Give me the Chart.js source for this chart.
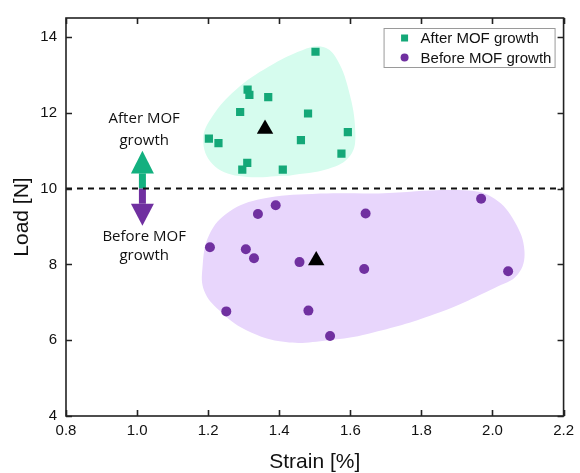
<!DOCTYPE html>
<html>
<head>
<meta charset="utf-8">
<script src="https://cdn.jsdelivr.net/npm/chart.js@4.4.1/dist/chart.umd.min.js"></script>
<style>
  html, body { margin: 0; padding: 0; background: #fff; }
  #chart { display: block; }
</style>
</head>
<body>
<canvas id="chart" width="580" height="473"></canvas>
<script>
// ---- data ----
const afterStrain  = [1.502, 1.311, 1.316, 1.369, 1.290, 1.481, 1.593, 1.202, 1.229, 1.461, 1.575, 1.310, 1.296, 1.410];
const afterLoad    = [13.61, 12.61, 12.47, 12.41, 12.02, 11.98, 11.49, 11.32, 11.20, 11.28, 10.92, 10.68, 10.50, 10.50];
const beforeStrain = [1.390, 1.340, 1.643, 1.205, 1.306, 1.329, 1.457, 1.639, 1.251, 1.482, 1.543, 1.968, 2.044];
const beforeLoad   = [9.56, 9.33, 9.34, 8.45, 8.40, 8.16, 8.06, 7.88, 6.76, 6.78, 6.11, 9.73, 7.82];
const meanStrain   = [1.360, 1.504];
const meanLoad     = [11.57, 8.10];

// outlines of the shaded regions
const afterHullX  = [1.427, 1.287, 1.212, 1.186, 1.212, 1.278, 1.371, 1.465, 1.520, 1.558, 1.595, 1.614, 1.600, 1.539, 1.427];
const afterHullY  = [10.34, 10.33, 10.65, 11.30, 11.91, 12.61, 13.22, 13.65, 13.74, 13.48, 12.61, 11.48, 10.87, 10.52, 10.34];
const beforeHullX = [1.679, 1.931, 2.006, 2.062, 2.090, 2.071, 2.006, 1.838, 1.651, 1.539, 1.418, 1.306, 1.231, 1.189, 1.184, 1.203, 1.259, 1.352, 1.493, 1.679];
const beforeHullY = [9.87, 9.95, 9.73, 9.13, 8.35, 7.73, 7.38, 6.69, 6.17, 6.00, 5.95, 6.27, 6.79, 7.30, 7.91, 8.78, 9.39, 9.73, 9.86, 9.87];

const dividerX = [0.8, 2.2];
const dividerY = [10, 10];

const xTicks = [0.8, 1.0, 1.2, 1.4, 1.6, 1.8, 2.0, 2.2];
const yTicks = [4, 6, 8, 10, 12, 14];

// arrow annotation: base, head base, tip (load values)
const arrowX = 1.015;
const arrowUp = [10, 10.4, 11.0];
const arrowDown = [10, 9.6, 9.02];
const noteX = 1.02;
const noteLines = ['After MOF', 'growth', 'Before MOF', 'growth'];
const noteY = [11.83, 11.27, 8.73, 8.24];

const GREEN = '#14a878';
const PURPLE = '#7030a0';

const pts = (xs, ys) => xs.map((x, i) => ({ x, y: ys[i] }));

Chart.defaults.font.family = '"Liberation Sans", Arial, sans-serif';
Chart.defaults.color = '#111';

const annotations = {
  id: 'annotations',
  beforeDatasetsDraw(chart) {
    const { ctx, scales: { x, y } } = chart;
    const drawArrow = (vals, color) => {
      const px = x.getPixelForValue(arrowX);
      const p0 = y.getPixelForValue(vals[0]);
      const p1 = y.getPixelForValue(vals[1]);
      const p2 = y.getPixelForValue(vals[2]);
      ctx.fillStyle = color;
      ctx.beginPath();
      ctx.rect(px - 3.5, Math.min(p0, p1), 7, Math.abs(p1 - p0));
      ctx.fill();
      ctx.beginPath();
      ctx.moveTo(px - 11.5, p1);
      ctx.lineTo(px, p2);
      ctx.lineTo(px + 11.5, p1);
      ctx.closePath();
      ctx.fill();
    };
    ctx.save();
    drawArrow(arrowUp, '#13b07f');
    drawArrow(arrowDown, PURPLE);
    ctx.font = '15px "Open Sans", sans-serif';
    ctx.fillStyle = '#111';
    ctx.textAlign = 'center';
    ctx.textBaseline = 'middle';
    noteLines.forEach((t, i) => ctx.fillText(t, x.getPixelForValue(noteX), y.getPixelForValue(noteY[i])));
    ctx.restore();
  }
};

const frame = {
  id: 'frame',
  afterDatasetsDraw(chart) {
    const { ctx, chartArea: a, scales: { x, y } } = chart;
    ctx.save();
    ctx.strokeStyle = '#222';
    ctx.lineWidth = 1.6;
    ctx.strokeRect(a.left, a.top, a.right - a.left, a.bottom - a.top);
    ctx.beginPath();
    xTicks.forEach(v => {
      const px = Math.round(x.getPixelForValue(v)) + 0.5;
      ctx.moveTo(px, a.bottom); ctx.lineTo(px, a.bottom - 6);
      ctx.moveTo(px, a.top); ctx.lineTo(px, a.top + 6);
    });
    yTicks.forEach(v => {
      const py = Math.round(y.getPixelForValue(v)) + 0.5;
      ctx.moveTo(a.left, py); ctx.lineTo(a.left + 6, py);
      ctx.moveTo(a.right, py); ctx.lineTo(a.right - 6, py);
    });
    ctx.stroke();

    // legend box inside the plot, top right
    const items = [chart.data.datasets[1], chart.data.datasets[2]];
    const bx = a.right - 180, by = a.top + 10, bw = 171, bh = 39;
    ctx.fillStyle = '#fff';
    ctx.fillRect(bx, by, bw, bh);
    ctx.strokeStyle = '#9a9a9a';
    ctx.lineWidth = 1;
    ctx.strokeRect(bx + 0.5, by + 0.5, bw, bh);
    ctx.font = '15px "Liberation Sans", Arial, sans-serif';
    ctx.textBaseline = 'middle';
    items.forEach((ds, i) => {
      const cy = by + 10 + i * 19.5;
      ctx.fillStyle = ds.backgroundColor;
      if (ds.pointStyle === 'rect') {
        ctx.fillRect(bx + 17.5, cy - 3.5, 7, 7);
      } else {
        ctx.beginPath();
        ctx.arc(bx + 21, cy, 4, 0, Math.PI * 2);
        ctx.fill();
      }
      ctx.fillStyle = '#111';
      ctx.fillText(ds.label, bx + 37, cy + 1);
    });
    ctx.restore();
  }
};

new Chart(document.getElementById('chart'), {
  type: 'scatter',
  data: {
    datasets: [
      {
        label: 'Mean',
        data: pts(meanStrain, meanLoad),
        pointStyle: 'triangle',
        pointRadius: 9.5,
        backgroundColor: '#000',
        borderColor: '#000',
        borderWidth: 0
      },
      {
        label: 'After MOF growth',
        data: pts(afterStrain, afterLoad),
        pointStyle: 'rect',
        pointRadius: 5.8,
        backgroundColor: GREEN,
        borderColor: GREEN,
        borderWidth: 0
      },
      {
        label: 'Before MOF growth',
        data: pts(beforeStrain, beforeLoad),
        pointStyle: 'circle',
        pointRadius: 5,
        backgroundColor: PURPLE,
        borderColor: PURPLE,
        borderWidth: 0
      },
      {
        label: 'divider',
        data: pts(dividerX, dividerY),
        showLine: true,
        pointRadius: 0,
        borderColor: '#111',
        borderWidth: 2,
        borderDash: [6, 5]
      },
      {
        label: 'after region',
        data: pts(afterHullX, afterHullY),
        showLine: true,
        fill: 'shape',
        tension: 0.4,
        pointRadius: 0,
        borderWidth: 0,
        borderColor: '#d6fcee',
        backgroundColor: '#d6fcee'
      },
      {
        label: 'before region',
        data: pts(beforeHullX, beforeHullY),
        showLine: true,
        fill: 'shape',
        tension: 0.4,
        pointRadius: 0,
        borderWidth: 0,
        borderColor: '#e8d6fc',
        backgroundColor: '#e8d6fc'
      }
    ]
  },
  options: {
    responsive: false,
    animation: false,
    devicePixelRatio: 1,
    layout: { padding: { top: 14, right: 14, left: 0, bottom: 0 } },
    plugins: {
      legend: { display: false },
      tooltip: { enabled: false }
    },
    scales: {
      x: {
        type: 'linear',
        min: 0.8,
        max: 2.2,
        afterBuildTicks: s => { s.ticks = xTicks.map(v => ({ value: v })); },
        afterFit: s => { s.height = 57; },
        grid: { display: false, drawTicks: false },
        border: { display: false },
        ticks: {
          padding: 6,
          maxRotation: 0,
          font: { size: 15 },
          color: '#111',
          callback: v => v.toFixed(1)
        },
        title: {
          display: true,
          text: 'Strain [%]',
          font: { size: 21, lineHeight: 1 },
          color: '#111',
          padding: { top: 0, bottom: 0 }
        }
      },
      y: {
        type: 'linear',
        min: 4,
        max: 14.5,
        afterBuildTicks: s => { s.ticks = yTicks.map(v => ({ value: v })); },
        afterFit: s => { s.width = 66; },
        grid: { display: false, drawTicks: false },
        border: { display: false },
        ticks: {
          padding: 9,
          font: { size: 15 },
          color: '#111'
        },
        title: {
          display: true,
          text: 'Load [N]',
          font: { size: 21, lineHeight: 1 },
          color: '#111',
          padding: { top: 12, bottom: 0 }
        }
      }
    }
  },
  plugins: [annotations, frame]
});
</script>
</body>
</html>
